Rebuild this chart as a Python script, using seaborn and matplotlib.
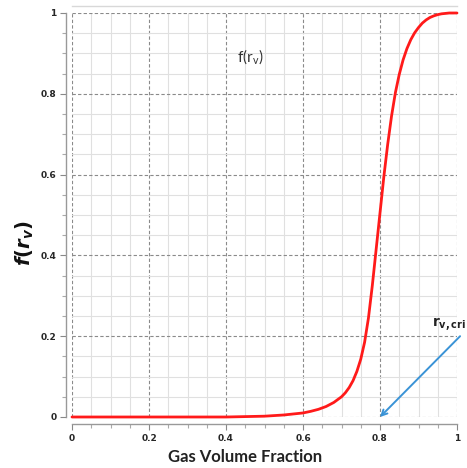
import matplotlib
matplotlib.use("Agg")
import matplotlib.pyplot as plt
import seaborn as sns
import pandas as pd
from matplotlib.ticker import MultipleLocator, FixedLocator, FixedFormatter

gas_volume_fraction = [0.0, 0.1, 0.2, 0.3, 0.4, 0.45, 0.5, 0.55, 0.6, 0.62, 0.64, 0.66,
                       0.68, 0.70, 0.71, 0.72, 0.73, 0.74, 0.75, 0.76, 0.77, 0.78, 0.79,
                       0.80, 0.81, 0.82, 0.83, 0.84, 0.85, 0.86, 0.87, 0.88, 0.89, 0.90,
                       0.91, 0.92, 0.93, 0.94, 0.95, 0.96, 0.97, 0.98, 1.0]
f_rv = [0.0, 0.0, 0.0, 0.0, 0.0, 0.001, 0.002, 0.005, 0.010, 0.014, 0.019, 0.026,
        0.036, 0.050, 0.060, 0.073, 0.090, 0.113, 0.143, 0.185, 0.245, 0.325, 0.415,
        0.505, 0.595, 0.675, 0.745, 0.803, 0.848, 0.884, 0.912, 0.934, 0.951, 0.964,
        0.975, 0.983, 0.989, 0.993, 0.996, 0.998, 0.999, 1.0, 1.0]
tick_values = [0, 0.2, 0.4, 0.6, 0.8, 1]
tick_labels = ["0", "0.2", "0.4", "0.6", "0.8", "1"]
r_crit = 0.8

sns.set_style("white")
plt.rcParams["font.family"] = ["DejaVu Sans"]
plt.rcParams["mathtext.fontset"] = "dejavusans"

df = pd.DataFrame({"gvf": gas_volume_fraction, "f": f_rv})

W, H = 467, 468
fig = plt.figure(figsize=(W / 100, H / 100), dpi=100)
ax = fig.add_axes([72 / W, 1 - 417 / H, 385 / W, 404 / H])

sns.lineplot(data=df, x="gvf", y="f", ax=ax, color="#ff1a1a", linewidth=2.0,
             clip_on=False, zorder=5)

ax.set_xlim(0, 1)
ax.set_ylim(0, 1)
ax.xaxis.set_major_locator(FixedLocator(tick_values))
ax.xaxis.set_major_formatter(FixedFormatter(tick_labels))
ax.yaxis.set_major_locator(FixedLocator(tick_values))
ax.yaxis.set_major_formatter(FixedFormatter(tick_labels))
ax.xaxis.set_minor_locator(MultipleLocator(0.05))
ax.yaxis.set_minor_locator(MultipleLocator(0.05))

ax.grid(which="minor", color="#e0e0e0", linewidth=0.8, linestyle="-")
ax.grid(which="major", color="#8a8a8a", linewidth=0.8, linestyle=(0, (3, 2)))
ax.set_axisbelow(True)

for side in ["left", "bottom", "top"]:
    ax.spines[side].set_visible(True)
    ax.spines[side].set_color("#999999")
    ax.spines[side].set_linewidth(1.0)
ax.spines["right"].set_visible(False)
ax.spines["left"].set_position(("outward", 4))
ax.spines["bottom"].set_position(("outward", 5))
ax.spines["top"].set_position(("outward", 5))
ax.spines["top"].set_color("#d8d8d8")

ax.tick_params(which="major", direction="out", length=4, width=0.8, color="#888888",
               labelsize=6.5, pad=3, left=True, bottom=True)
ax.tick_params(which="minor", direction="out", length=3, width=0.8, color="#aaaaaa",
               left=True, bottom=True)
for lab in ax.get_xticklabels() + ax.get_yticklabels():
    lab.set_fontweight("bold")
ax.set_xlabel("")
ax.set_ylabel("")

# annotations
ax.text(0.462, 0.893, r"$\mathregular{f(r_v)}$", ha="center", va="center",
        fontsize=11, color="#333333", family="Lato")
ax.annotate("", xy=(r_crit, 0.0), xytext=(1.008, 0.2),
            arrowprops=dict(arrowstyle="->", color="#3a93d6", lw=1.4,
                            shrinkA=0, shrinkB=0, mutation_scale=10),
            annotation_clip=False)
ax.text(0.935, 0.224, r"$\mathbf{r}_{\mathbf{v,cri}}$", ha="left", va="baseline",
        fontsize=10, color="#222222", clip_on=False)

fig.text(245 / W, 1 - 457 / H, "Gas Volume Fraction", ha="center", va="center",
         fontsize=12, fontweight="bold", family="Lato", color="#222222")
fig.text(25 / W, 1 - 243 / H, r"$\mathbfit{f}\mathbf{(}\mathbfit{r}_{\mathbfit{v}}\mathbf{)}$",
         ha="center", va="center", rotation=90, fontsize=14, color="#111111")

fig.savefig("out.png", dpi=100)
